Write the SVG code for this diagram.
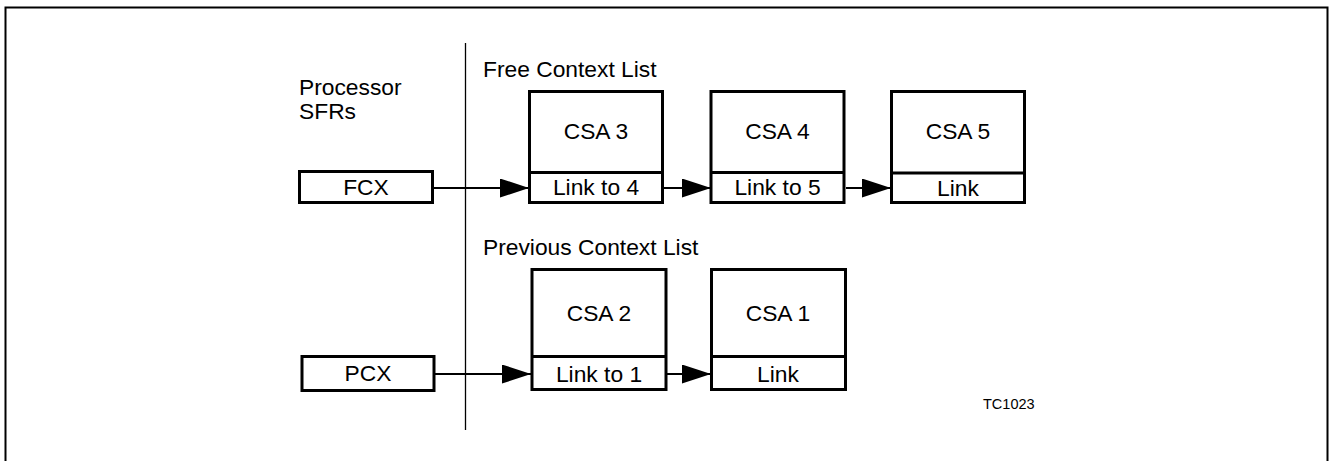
<svg xmlns="http://www.w3.org/2000/svg" width="1331" height="461" viewBox="0 0 1331 461">
<defs>
<style>
text{font-family:"Liberation Sans",Arial,sans-serif;fill:#000}
.t{font-size:22.8px}
.c{font-size:22.8px;text-anchor:middle}
.s{font-size:14.5px}
.box{fill:#fff;stroke:#000;stroke-width:3}
.ln{fill:none;stroke:#000;stroke-width:2}
</style>
<marker id="ah" markerWidth="29" markerHeight="19" refX="29" refY="9.5" orient="auto" markerUnits="userSpaceOnUse">
<path d="M0,0 L29,9.5 L0,19 Z" fill="#000"/>
</marker>
</defs>
<rect width="1331" height="461" fill="#fff"/>
<path d="M5.5,470 V7.5 H1327.5 V470" class="ln"/>
<line x1="465.5" y1="43" x2="465.5" y2="430" stroke="#000" stroke-width="1.3"/>
<text class="t" x="299" y="95">Processor</text>
<text class="t" x="299" y="119">SFRs</text>
<text class="t" x="483" y="77">Free Context List</text>
<text class="t" x="483" y="255">Previous Context List</text>
<text class="s" x="983" y="409">TC1023</text>
<g id="connectors">
<line x1="432" y1="188" x2="529" y2="188" class="ln" marker-end="url(#ah)"/>
<line x1="663" y1="188" x2="711" y2="188" class="ln" marker-end="url(#ah)"/>
<line x1="846" y1="188" x2="891" y2="188" class="ln" marker-end="url(#ah)"/>
<line x1="434" y1="374" x2="531" y2="374" class="ln" marker-end="url(#ah)"/>
<line x1="667" y1="374" x2="711" y2="374" class="ln" marker-end="url(#ah)"/>
</g>
<g id="fcx">
<rect x="299.5" y="171.5" width="133" height="31" class="box"/>
<text class="c" x="366" y="195">FCX</text>
</g>
<g id="pcx">
<rect x="302" y="356.5" width="132" height="34" class="box"/>
<text class="c" x="368" y="381">PCX</text>
</g>
<g id="csa3">
<rect x="529.5" y="91.5" width="133" height="111" class="box"/>
<line x1="529.5" y1="172.5" x2="662.5" y2="172.5" stroke="#000" stroke-width="3"/>
<text class="c" x="596" y="139">CSA 3</text>
<text class="c" x="596" y="195">Link to 4</text>
</g>
<g id="csa4">
<rect x="711" y="91.5" width="133" height="111" class="box"/>
<line x1="711" y1="172.5" x2="844" y2="172.5" stroke="#000" stroke-width="3"/>
<text class="c" x="777.5" y="139">CSA 4</text>
<text class="c" x="777.5" y="195">Link to 5</text>
</g>
<g id="csa5">
<rect x="891.5" y="91.5" width="133" height="111" class="box"/>
<line x1="891.5" y1="173" x2="1024.5" y2="173" stroke="#000" stroke-width="3"/>
<text class="c" x="958" y="139">CSA 5</text>
<text class="c" x="958" y="196">Link</text>
</g>
<g id="csa2">
<rect x="532" y="269.5" width="134" height="120" class="box"/>
<line x1="532" y1="356.5" x2="666" y2="356.5" stroke="#000" stroke-width="3"/>
<text class="c" x="599" y="321">CSA 2</text>
<text class="c" x="599" y="382">Link to 1</text>
</g>
<g id="csa1">
<rect x="711.5" y="269.5" width="134" height="120" class="box"/>
<line x1="711.5" y1="356.5" x2="845.5" y2="356.5" stroke="#000" stroke-width="3"/>
<text class="c" x="778" y="321">CSA 1</text>
<text class="c" x="778" y="382">Link</text>
</g>
</svg>
